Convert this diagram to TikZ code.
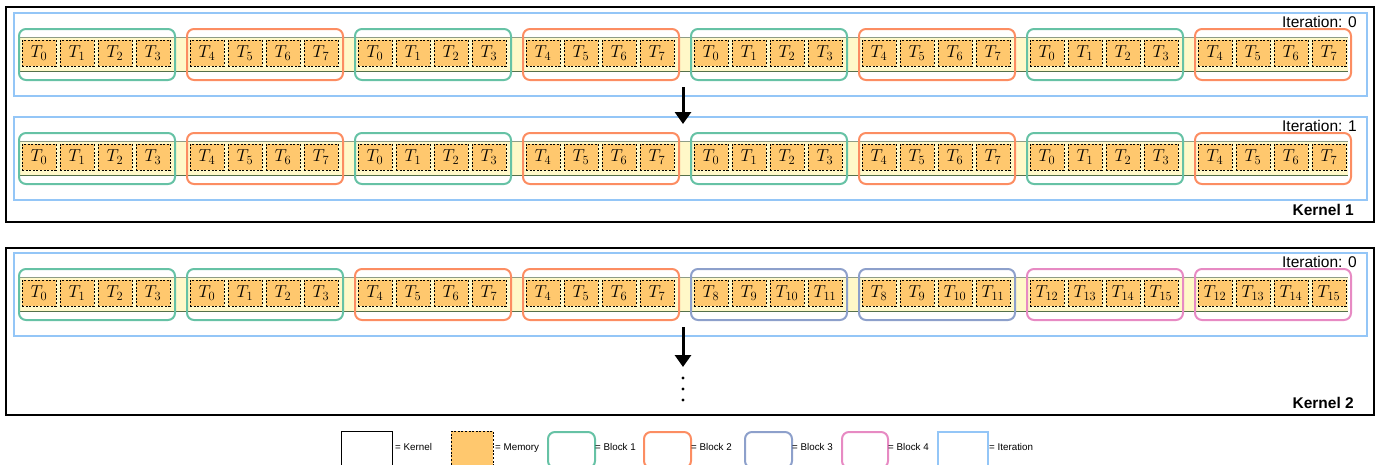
\documentclass[tikz,border=0pt]{standalone}
\usepackage{fontspec}
\setsansfont{Liberation Sans}
\usetikzlibrary{arrows.meta}
\definecolor{bgreen}{HTML}{66C2A5}
\definecolor{borange}{HTML}{FC8D62}
\definecolor{bblue}{HTML}{8DA0CB}
\definecolor{bpink}{HTML}{E78AC3}
\definecolor{iterblue}{HTML}{94C6F7}
\definecolor{memfill}{HTML}{FFC86E}
\definecolor{stripfill}{HTML}{FFF8C8}
\definecolor{striptop}{HTML}{8E9C86}
\definecolor{stripbot}{HTML}{55704A}
\tikzset{
  kernelbox/.style={draw=black, line width=1.6pt, inner sep=0pt},
  iterbox/.style={draw=iterblue, line width=1.5pt, inner sep=0pt},
  blockbox/.style={line width=2pt, rounded corners=7pt, inner sep=0pt},
  memcell/.style={draw=black, fill=memfill, dashed, dash pattern=on 2pt off 1.6pt, line width=0.8pt,
     minimum width=34pt, minimum height=26pt, inner sep=0pt, font=\fontsize{16.5}{16.5}\selectfont},
  iterlabel/.style={anchor=base east, font=\fontsize{15.5}{16}\sffamily, inner sep=0pt},
  kernlabel/.style={anchor=base east, font=\fontsize{15.5}{16}\sffamily\bfseries, inner sep=0pt},
  legtext/.style={anchor=base west, font=\fontsize{9.8}{10}\sffamily, inner sep=0pt},
  bigarrow/.style={line width=3pt, -{Triangle[width=16pt,length=12pt]}},
}
\newcommand\Tsub[1]{$T_{\mbox{\fontsize{12.5}{12.5}\selectfont #1}}$}
\newcommand\drawrow[3]{%
  % #1 y offset, #2 row name, #3 iteration label
  \node[iterbox, minimum width=1353pt, minimum height=83pt, anchor=north west] (#2it) at (13,12+#1) {};
  \node[iterlabel] (#2lab) at (1357,27+#1) {Iteration: #3};
  \fill[stripfill] (20,37+#1) rectangle (1348,71+#1);
  \coordinate (#2sl) at (20,37+#1);
  \coordinate (#2sr) at (1348,37+#1);
  \coordinate (#2bl) at (20,71+#1);
  \coordinate (#2br) at (1348,71+#1);
  \draw[striptop, line width=1pt] (#2sl) -- (#2sr);
  \draw[stripbot, line width=1pt] (#2bl) -- (#2br);
}
\newcommand\drawblocks[3]{%
  % #1 y offset, #2 row name, #3 list color/start
  \foreach \c/\s [count=\i from 0] in {#3} {
    \pgfmathsetmacro\bx{18+168*\i}
    \node[blockbox, draw=\c, minimum width=156pt, minimum height=51pt, anchor=north west] (#2b\i) at (\bx,28+#1) {};
    \foreach \j in {0,1,2,3} {
      \pgfmathtruncatemacro\n{\s+\j}
      \node[memcell] (#2c\i\j) at (\bx+21+38*\j,53+#1) {\Tsub{\n}};
    }
  }
}
\begin{document}
\begin{tikzpicture}[x=1pt,y=-1pt]
\useasboundingbox (0,0) rectangle (1384,464);
\clip (0,0) rectangle (1384,464);
% kernels
\node[kernelbox, minimum width=1368pt, minimum height=215pt, anchor=north west] (k1) at (5,6) {};
\node[kernelbox, minimum width=1368pt, minimum height=167pt, anchor=north west] (k2) at (5,247) {};
\node[kernlabel] (k1lab) at (1354,215) {Kernel 1};
\node[kernlabel] (k2lab) at (1354,408) {Kernel 2};
% rows
\drawrow{0}{ra}{0}
\drawblocks{0}{ra}{bgreen/0,borange/4,bgreen/0,borange/4,bgreen/0,borange/4,bgreen/0,borange/4}
\drawrow{104}{rb}{1}
\drawblocks{104}{rb}{bgreen/0,borange/4,bgreen/0,borange/4,bgreen/0,borange/4,bgreen/0,borange/4}
\drawrow{240}{rc}{0}
\drawblocks{240}{rc}{bgreen/0,bgreen/0,borange/4,borange/4,bblue/8,bblue/8,bpink/12,bpink/12}
% arrows
\coordinate (a1s) at (683,87);
\coordinate (a1e) at (683,124);
\draw[bigarrow] (a1s) -- (a1e);
\coordinate (a2s) at (683,327);
\coordinate (a2e) at (683,367);
\draw[bigarrow] (a2s) -- (a2e);
\foreach \y in {378,389,400} \fill (683,\y) circle (1.6pt);
% legend
\node[kernelbox, line width=1.4pt, minimum width=51pt, minimum height=36pt, anchor=north west] (lk) at (341,431) {};
\node[legtext] (lkt) at (395,450) {= Kernel};
\node[memcell, minimum width=42pt, minimum height=36pt, anchor=north west] (lm) at (451,431) {};
\node[legtext] (lmt) at (495,450) {= Memory};
\node[blockbox, draw=bgreen, minimum width=47pt, minimum height=36pt, anchor=north west] (lb1) at (547,431) {};
\node[legtext] (lb1t) at (595,450) {= Block 1};
\node[blockbox, draw=borange, minimum width=47pt, minimum height=36pt, anchor=north west] (lb2) at (643,431) {};
\node[legtext] (lb2t) at (691,450) {= Block 2};
\node[blockbox, draw=bblue, minimum width=47pt, minimum height=36pt, anchor=north west] (lb3) at (744,431) {};
\node[legtext] (lb3t) at (792,450) {= Block 3};
\node[blockbox, draw=bpink, minimum width=46pt, minimum height=36pt, anchor=north west] (lb4) at (841,431) {};
\node[legtext] (lb4t) at (888,450) {= Block 4};
\node[iterbox, minimum width=50pt, minimum height=36pt, anchor=north west] (li) at (937,431) {};
\node[legtext] (lit) at (989,450) {= Iteration};
\end{tikzpicture}
\end{document}
